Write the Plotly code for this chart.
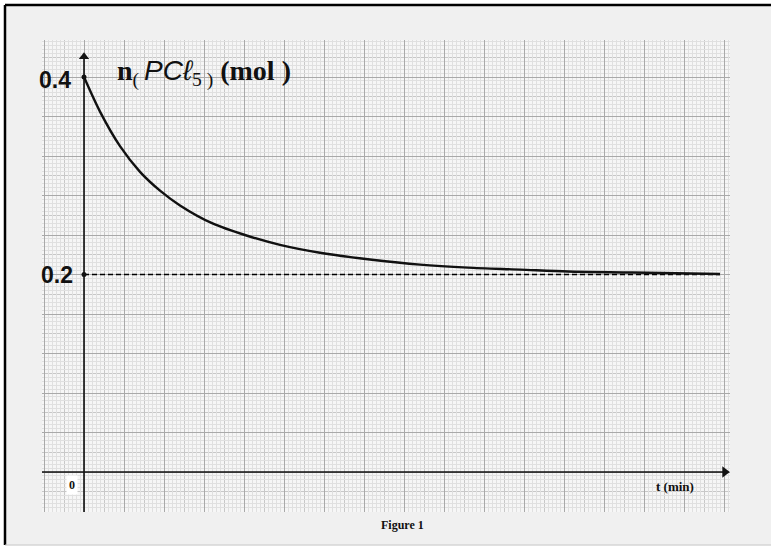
import plotly.graph_objects as go

# ---- data ----
t_min = [0, 0.4, 0.9, 1.4, 1.9, 2.4, 3.2, 4.1, 4.9, 5.9, 7.2, 8.4, 9.6, 10.9, 12.1, 13.7, 15.9]
n_pcl5 = [0.400, 0.365, 0.330, 0.304, 0.285, 0.270, 0.252, 0.239, 0.230, 0.222, 0.215,
          0.210, 0.207, 0.205, 0.203, 0.202, 0.2005]
n_initial = 0.4
n_final = 0.2
y_tick_labels = ["0.4", "0.2"]

X_RANGE = [-1.05, 16.15]
Y_RANGE = [-0.0405, 0.4375]

MAJOR = "#a9a9a9"
MEDIUM = "#c8c8c8"
FINE = "#e0e0e0"

W, H = 771, 547
ML, MR, MT, MB = 42, 41, 40, 35
PW, PH = W - ML - MR, H - MT - MB


def px_x(p):
    return (p - ML) / PW


def px_y(p):
    return (H - MB - p) / PH


fig = go.Figure()

# invisible trace for the fine grid overlay axes
fig.add_trace(go.Scatter(x=[X_RANGE[0]], y=[Y_RANGE[0]], xaxis="x2", yaxis="y2",
                         mode="markers", marker=dict(size=1, opacity=0),
                         hoverinfo="skip", showlegend=False))

# dashed asymptote
fig.add_trace(go.Scatter(x=[0, t_min[-1]], y=[n_final, n_final], mode="lines",
                         line=dict(color="black", width=1.5, dash="5px,3px"),
                         showlegend=False, hoverinfo="skip"))

# curve
fig.add_trace(go.Scatter(x=t_min, y=n_pcl5, mode="lines",
                         line=dict(color="#111111", width=2.4, shape="spline", smoothing=0.8),
                         showlegend=False))

# x axis line + arrowhead
fig.add_trace(go.Scatter(x=[X_RANGE[0], 16.0], y=[0, 0], mode="lines",
                         line=dict(color="#111111", width=1.6),
                         cliponaxis=False, showlegend=False, hoverinfo="skip"))
fig.add_trace(go.Scatter(x=[16.02], y=[0], mode="markers",
                         marker=dict(symbol="triangle-right", size=10, color="#111111"),
                         cliponaxis=False, showlegend=False, hoverinfo="skip"))

# y axis line + arrowhead
fig.add_trace(go.Scatter(x=[0, 0], y=[Y_RANGE[0], 0.42], mode="lines",
                         line=dict(color="#111111", width=1.6),
                         cliponaxis=False, showlegend=False, hoverinfo="skip"))
fig.add_trace(go.Scatter(x=[0], y=[0.4205], mode="markers",
                         marker=dict(symbol="triangle-up", size=9, color="#111111"),
                         cliponaxis=False, showlegend=False, hoverinfo="skip"))

# dots on the y axis
fig.add_trace(go.Scatter(x=[0, 0], y=[n_initial, n_final], mode="markers",
                         marker=dict(color="#111111", size=5),
                         cliponaxis=False, showlegend=False, hoverinfo="skip"))

annotations = [
    dict(x=-0.28, y=n_initial - 0.003, text="<b>" + y_tick_labels[0] + "</b>", xanchor="right",
         yanchor="middle", showarrow=False,
         font=dict(family="Liberation Sans", size=23, color="#111111")),
    dict(x=-0.22, y=n_final, text="<b>" + y_tick_labels[1] + "</b>", xanchor="right",
         yanchor="middle", showarrow=False,
         font=dict(family="Liberation Sans", size=23, color="#111111")),
    dict(x=-0.31, y=-0.0135, text="<b>0</b>", xanchor="center", yanchor="middle",
         showarrow=False, bgcolor="white", borderpad=2,
         font=dict(family="Liberation Serif", size=12, color="#111111")),
    dict(x=14.78, y=-0.0142, text="<b>t (min)</b>", xanchor="center", yanchor="middle",
         showarrow=False,
         font=dict(family="Liberation Serif", size=13, color="#111111")),
    dict(x=0.78, y=0.404, xanchor="left", yanchor="middle", showarrow=False,
         text=("<b>n</b><sub>( </sub><span style=\"font-family:'Liberation Sans'\"><i>PCℓ</i></span>"
               "<sub>5 )</sub> <b>(mol )</b>"),
         font=dict(family="Liberation Serif", size=28, color="#111111")),
    dict(xref="paper", yref="paper", x=px_x(402), y=px_y(525), text="<b>Figure 1</b>",
         xanchor="center", yanchor="middle", showarrow=False,
         font=dict(family="Liberation Serif", size=12, color="#111111")),
]

shapes = [
    # white margin outside the frame
    dict(type="rect", xref="paper", yref="paper", x0=px_x(-2), x1=px_x(5), y0=px_y(-2), y1=px_y(H + 2),
         fillcolor="white", line=dict(width=0), layer="below"),
    dict(type="rect", xref="paper", yref="paper", x0=px_x(-2), x1=px_x(W + 2), y0=px_y(-2), y1=px_y(5),
         fillcolor="white", line=dict(width=0), layer="below"),
    dict(type="rect", xref="paper", yref="paper", x0=px_x(-2), x1=px_x(W + 2), y0=px_y(545.5), y1=px_y(H + 2),
         fillcolor="white", line=dict(width=0), layer="below"),
    # frame lines
    dict(type="line", xref="paper", yref="paper", x0=px_x(5), x1=px_x(W + 2), y0=px_y(5), y1=px_y(5),
         line=dict(color="black", width=2.5), layer="above"),
    dict(type="line", xref="paper", yref="paper", x0=px_x(5), x1=px_x(5), y0=px_y(5), y1=px_y(545),
         line=dict(color="black", width=2.5), layer="above"),
    dict(type="line", xref="paper", yref="paper", x0=px_x(5), x1=px_x(W + 2), y0=px_y(545), y1=px_y(545),
         line=dict(color="#c8c8c8", width=1), layer="above"),
]

fig.update_layout(
    width=W, height=H,
    margin=dict(l=ML, r=MR, t=MT, b=MB, pad=0),
    paper_bgcolor="#f0f0f0",
    plot_bgcolor="#f6f6f6",
    showlegend=False,
    annotations=annotations,
    shapes=shapes,
    xaxis=dict(range=X_RANGE, tick0=0, dtick=1, showgrid=True, gridcolor=MAJOR, gridwidth=1,
               minor=dict(dtick=0.5, tick0=0, showgrid=True, gridcolor=MEDIUM, gridwidth=1),
               showticklabels=False, ticks="", zeroline=False, showline=False, fixedrange=True),
    yaxis=dict(range=Y_RANGE, tick0=0, dtick=0.04, showgrid=True, gridcolor=MAJOR, gridwidth=1,
               minor=dict(dtick=0.02, tick0=0, showgrid=True, gridcolor=MEDIUM, gridwidth=1),
               showticklabels=False, ticks="", zeroline=False, showline=False, fixedrange=True),
    xaxis2=dict(range=X_RANGE, overlaying="x", tick0=0, dtick=0.5, showgrid=False,
                minor=dict(dtick=0.1, tick0=0, showgrid=True, gridcolor=FINE, gridwidth=1),
                showticklabels=False, ticks="", zeroline=False, showline=False, fixedrange=True),
    yaxis2=dict(range=Y_RANGE, overlaying="y", tick0=0, dtick=0.02, showgrid=False,
                minor=dict(dtick=0.004, tick0=0, showgrid=True, gridcolor=FINE, gridwidth=1),
                showticklabels=False, ticks="", zeroline=False, showline=False, fixedrange=True),
)

fig.write_html("out.html", config={"displayModeBar": False},
               post_script="document.body.style.margin='0';")
